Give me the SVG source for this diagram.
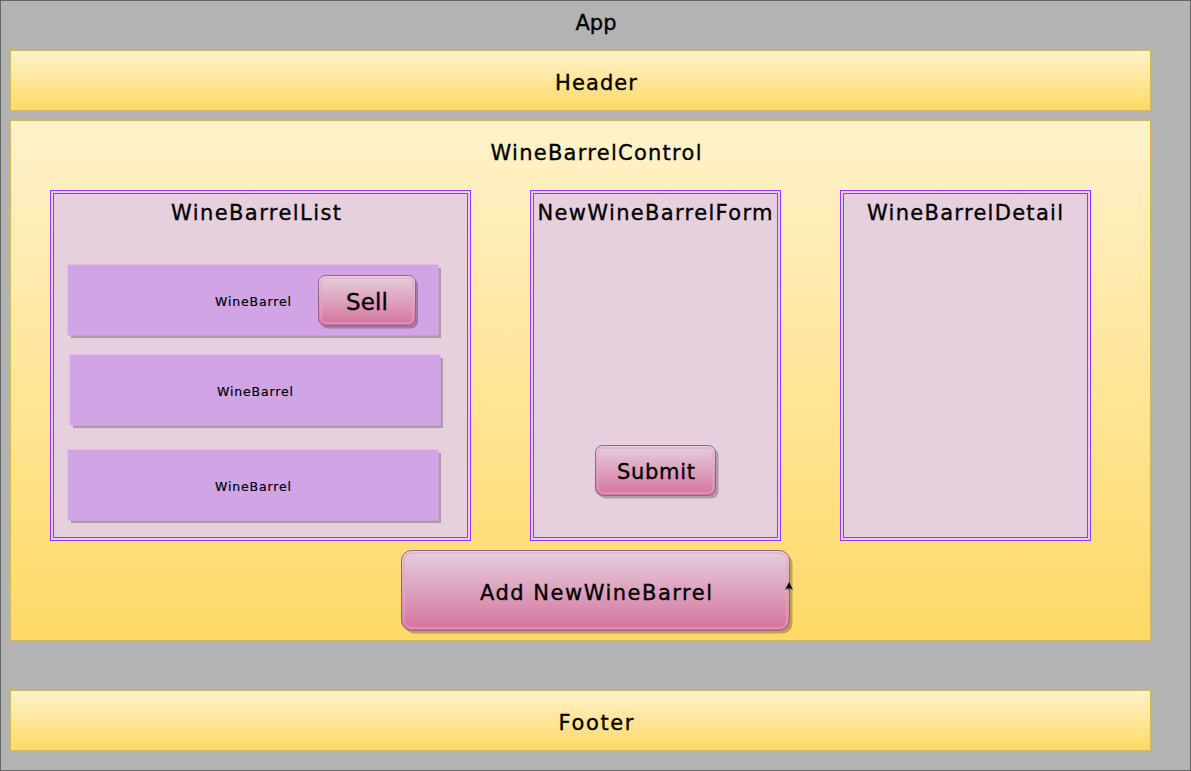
<svg xmlns="http://www.w3.org/2000/svg" width="1191" height="771" viewBox="0 0 1191 771">
<defs>
<linearGradient id="gy" x1="0" y1="0" x2="0" y2="1"><stop offset="0" stop-color="#fff2cc"/><stop offset="1" stop-color="#ffd966"/></linearGradient>
<linearGradient id="gp" x1="0" y1="0" x2="0" y2="1"><stop offset="0" stop-color="#e6d0de"/><stop offset="1" stop-color="#d5739d"/></linearGradient>
<marker id="ah" viewBox="0 0 10 10" refX="5" refY="5" markerWidth="8" markerHeight="8" orient="auto"><path d="M0,0 L10,5 L0,10 L3,5 z" fill="#000"/></marker>
</defs>
<style>
.t{font-family:"Comic Sans MS","DejaVu Sans",sans-serif;fill:#000;stroke:#000;stroke-width:0.35;text-anchor:middle;dominant-baseline:central}
.band{fill:url(#gy);stroke:#d6b656;stroke-width:1}
.panel{fill:#e6d0de;stroke:#9933ff;stroke-width:1}
.pin{fill:none;stroke:#9933ff;stroke-width:1}
.row{fill:#d1a4e6;stroke:#d9a6f2;stroke-width:1}
.sh{fill:#000;opacity:0.25}
.btn{fill:url(#gp);stroke:#996185;stroke-width:1}
.bin{fill:none;stroke:#e0a6c4;stroke-width:1}
</style>
<g id="app">
<rect x="0.5" y="0.5" width="1190" height="770" fill="#b3b3b3" stroke="#666666"/>
<text class="t" x="596" y="23" font-size="21" textLength="41" lengthAdjust="spacingAndGlyphs">App</text>
</g>
<g id="header">
<rect class="band" x="10.5" y="50.5" width="1140" height="60"/>
<text class="t" x="596" y="83" font-size="21" textLength="82">Header</text>
</g>
<g id="control">
<rect class="band" x="10.5" y="120.5" width="1140" height="520"/>
<text class="t" x="596" y="153" font-size="21" textLength="211">WineBarrelControl</text>
</g>
<g id="list">
<rect class="panel" x="50.5" y="190.5" width="420" height="350"/>
<rect class="pin" x="53.5" y="193.5" width="414" height="344"/>
<text class="t" x="256" y="213" font-size="21" textLength="170">WineBarrelList</text>
</g>
<g id="barrel1">
<rect class="sh" x="71" y="268" width="370" height="70"/>
<rect class="row" x="68" y="265" width="370" height="70"/>
<text class="t" x="253" y="301" font-size="12.5" textLength="76" style="stroke-width:0.2">WineBarrel</text>
</g>
<g id="sell">
<rect class="sh" x="321" y="278.5" width="97" height="50" rx="7"/>
<rect class="btn" x="318.5" y="275.5" width="97" height="50" rx="7"/>
<rect class="bin" x="321" y="278" width="92" height="45" rx="5"/>
<text class="t" x="367" y="302" font-size="23" textLength="42">Sell</text>
</g>
<g id="barrel2">
<rect class="sh" x="73" y="358" width="370" height="70"/>
<rect class="row" x="70" y="355" width="370" height="70"/>
<text class="t" x="255" y="391" font-size="12.5" textLength="76" style="stroke-width:0.2">WineBarrel</text>
</g>
<g id="barrel3">
<rect class="sh" x="71" y="453" width="370" height="70"/>
<rect class="row" x="68" y="450" width="370" height="70"/>
<text class="t" x="253" y="486" font-size="12.5" textLength="76" style="stroke-width:0.2">WineBarrel</text>
</g>
<g id="form">
<rect class="panel" x="530.5" y="190.5" width="250" height="350"/>
<rect class="pin" x="533.5" y="193.5" width="244" height="344"/>
<text class="t" x="655" y="213" font-size="21" textLength="235">NewWineBarrelForm</text>
</g>
<g id="submit">
<rect class="sh" x="598.5" y="448.5" width="120" height="50" rx="7"/>
<rect class="btn" x="595.5" y="445.5" width="120" height="50" rx="7"/>
<rect class="bin" x="598" y="448" width="115" height="45" rx="5"/>
<text class="t" x="656" y="472" font-size="21" textLength="78">Submit</text>
</g>
<g id="detail">
<rect class="panel" x="840.5" y="190.5" width="250" height="350"/>
<rect class="pin" x="843.5" y="193.5" width="244" height="344"/>
<text class="t" x="965" y="213" font-size="21" textLength="196">WineBarrelDetail</text>
</g>
<g id="add">
<rect class="sh" x="404.5" y="553.5" width="388" height="80" rx="10"/>
<rect class="btn" x="401.5" y="550.5" width="388" height="80" rx="10"/>
<rect class="bin" x="404" y="553" width="383" height="75" rx="8"/>
<text class="t" x="596" y="593" font-size="21" textLength="232">Add NewWineBarrel</text>
</g>
<g id="footer">
<rect class="band" x="10.5" y="690.5" width="1140" height="60"/>
<text class="t" x="596" y="723" font-size="21" textLength="75">Footer</text>
</g>
<g id="connectors">
<path d="M789,590 L789,586" fill="none" stroke="#000" stroke-width="1" marker-end="url(#ah)"/>
</g>
</svg>
